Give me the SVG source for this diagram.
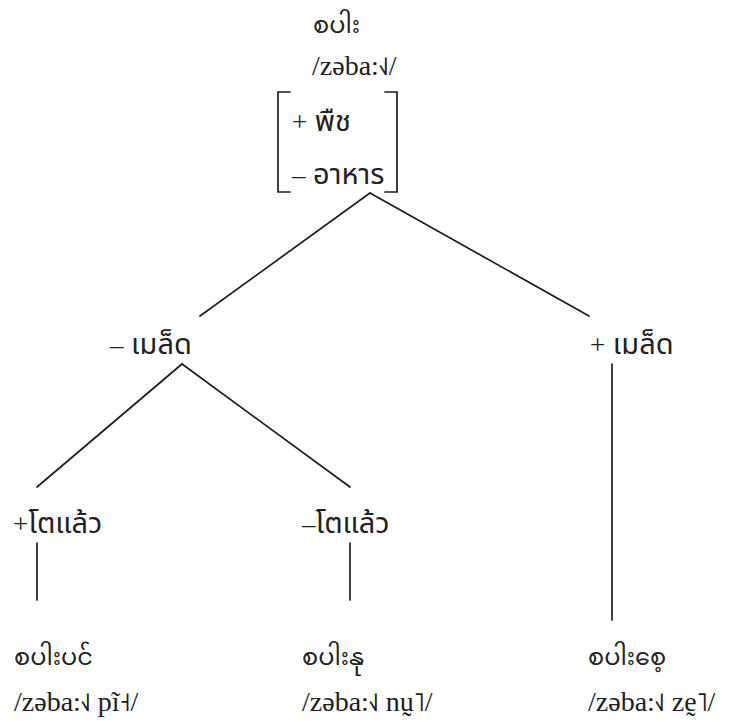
<svg xmlns="http://www.w3.org/2000/svg" width="742" height="723" viewBox="0 0 742 723">
  <style>
    .edge { stroke: #1e1e1e; stroke-width: 1.7; fill: none; stroke-linecap: round; }
    .my { font-family: "Noto Sans Myanmar", "Padauk", "Myanmar Text", "Noto Sans", serif; font-size: 24px; fill: #222; }
    .ipa { font-family: "Liberation Serif", "Times New Roman", "DejaVu Serif", serif; font-size: 28px; fill: #1e1e1e; }
    .tone { font-family: "Noto Sans", "DejaVu Sans", sans-serif; font-size: 26px; }
    .th { font-family: "Noto Sans Thai", "Noto Sans Thai Looped", "Noto Sans", sans-serif; font-size: 29px; fill: #222; }
    .sign { font-family: "Liberation Serif", serif; font-size: 27px; }
  </style>
  <rect width="742" height="723" fill="#fff"/>

  <!-- tree edges -->
  <g id="edges">
    <line class="edge" x1="370" y1="193" x2="200" y2="316"/>
    <line class="edge" x1="370" y1="193" x2="589" y2="316"/>
    <line class="edge" x1="182" y1="364" x2="37" y2="487"/>
    <line class="edge" x1="182" y1="364" x2="350" y2="487"/>
    <line class="edge" x1="37" y1="543" x2="37" y2="600"/>
    <line class="edge" x1="350" y1="543" x2="350" y2="600"/>
    <line class="edge" x1="612" y1="364" x2="612" y2="620"/>
  </g>

  <!-- root: paddy -->
  <g id="root">
    <text class="my" x="313" y="33">စပါး</text>
    <text class="ipa" x="312" y="75">/zəba:<tspan class="tone">˧˩</tspan>/</text>
    <path class="edge" d="M290 92 H278 V192 H290"/>
    <path class="edge" d="M385 92 H397 V192 H385"/>
    <text class="th" x="292" y="131"><tspan class="sign">+</tspan> พืช</text>
    <text class="th" x="292" y="184"><tspan class="sign">–</tspan> อาหาร</text>
  </g>

  <g id="no-seed">
    <text class="th" x="110" y="354"><tspan class="sign">–</tspan> เมล็ด</text>
  </g>

  <g id="seed">
    <text class="th" x="590" y="354"><tspan class="sign">+</tspan> เมล็ด</text>
  </g>

  <g id="mature">
    <text class="th" x="13" y="533"><tspan class="sign">+</tspan>โตแล้ว</text>
  </g>

  <g id="young">
    <text class="th" x="302" y="533"><tspan class="sign">–</tspan>โตแล้ว</text>
  </g>

  <g id="rice-plant">
    <text class="my" x="14" y="665">စပါးပင်</text>
    <text class="ipa" x="14" y="711">/zəba:<tspan class="tone">˧˩</tspan> pĩ<tspan class="tone">˧</tspan>/</text>
  </g>

  <g id="young-rice">
    <text class="my" x="302" y="665">စပါးနု</text>
    <text class="ipa" x="302" y="711">/zəba:<tspan class="tone">˧˩</tspan> nṵ<tspan class="tone">˥</tspan>/</text>
  </g>

  <g id="rice-seed">
    <text class="my" x="588" y="665">စပါးစေ့</text>
    <text class="ipa" x="588" y="711">/zəba:<tspan class="tone">˧˩</tspan> zḛ<tspan class="tone">˥</tspan>/</text>
  </g>
</svg>
